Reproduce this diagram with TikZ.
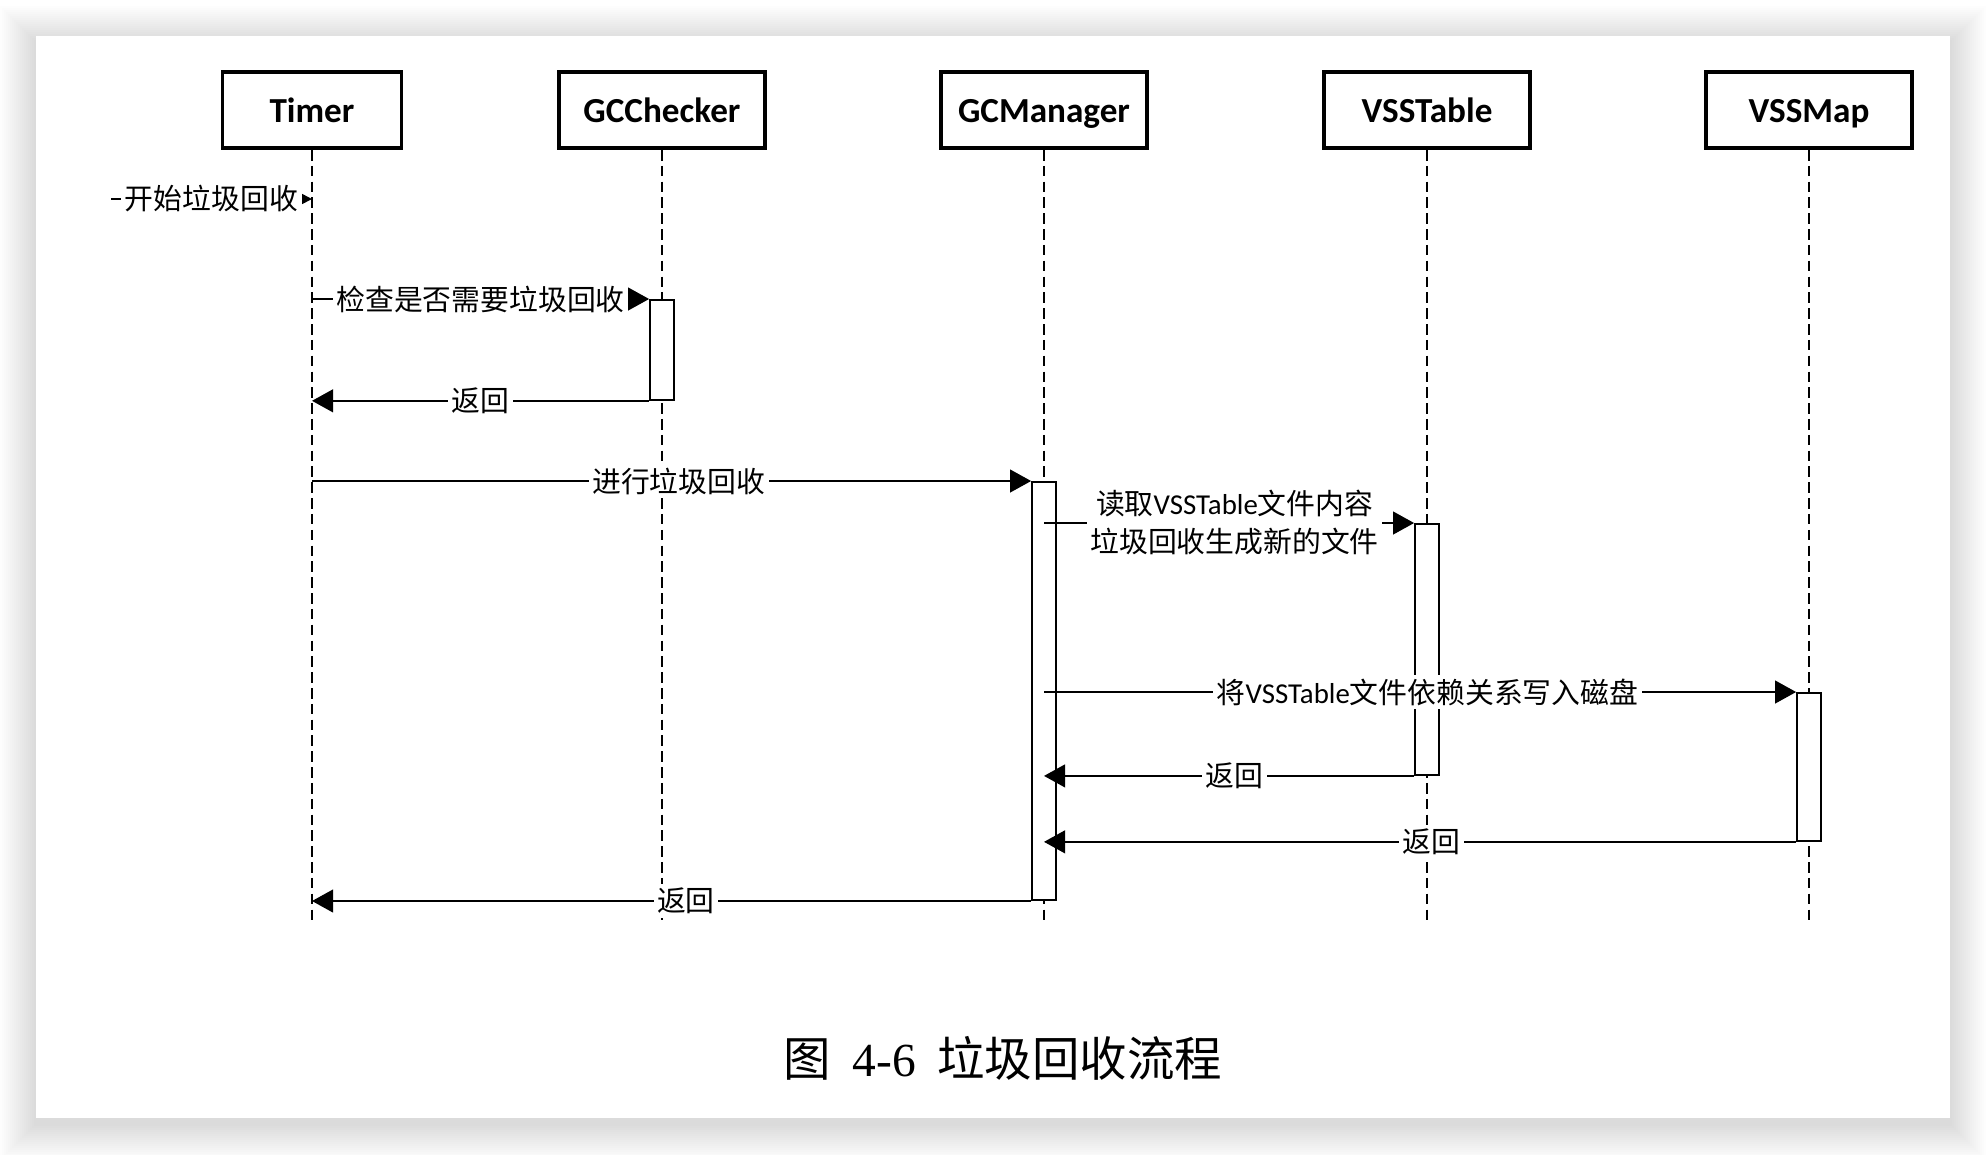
\documentclass[tikz,border=0pt]{standalone}
\usepackage{fontspec}
\setmainfont{Carlito}
\newfontfamily\cjk{Noto Sans CJK SC}
\newfontfamily\capserif{Liberation Serif}
\usetikzlibrary{arrows.meta, calc, positioning}
\newcommand{\zh}[1]{{\cjk #1}}

\tikzset{
  objbox/.style={draw, line width=1.1pt, minimum height=0.76cm, minimum width=2.06cm, inner sep=0pt, text height=7.2pt, text depth=0pt, font=\fontsize{10}{12}\selectfont\bfseries},
  lifeline/.style={line width=0.4pt, dash pattern=on 3pt off 1.5pt},
  actbox/.style={draw, fill=white, line width=0.5pt, minimum width=0.24cm, inner sep=0pt},
  msg/.style={line width=0.5pt, -{Triangle[length=6pt, width=6.5pt]}},
  msglabel/.style={fill=white, inner sep=1pt, font=\fontsize{8.2}{10.8}\selectfont},
}

\begin{document}
\begin{tikzpicture}[x=0.01cm, y=-0.01cm]
\useasboundingbox (0,0) rectangle (1986,1154);

% Page with shadow
\fill[white] (0,0) rectangle (1986,1154);
\foreach \r in {1,...,18} {
    \fill[black, opacity=0.007] ({36-2*\r},{42-2*\r}) rectangle ({1950+2*\r},{1124+2*\r});
}
\fill[white] (36,36) rectangle (1950,1118);

% Objects
\node[objbox, minimum width=1.79cm] (timer) at (312,110) {Timer};
\node[objbox] (checker) at (662,110) {GCChecker};
\node[objbox] (manager) at (1044,110) {GCManager};
\node[objbox] (vsstable) at (1427,110) {VSSTable};
\node[objbox] (vssmap) at (1809,110) {VSSMap};

% Lifelines
\coordinate (lifeend) at (0,921);
\foreach \obj in {timer, checker, manager, vsstable, vssmap} {
    \draw[lifeline] (\obj.south) -- (\obj |- lifeend);
}

% Activations
\node[actbox, minimum height=1.00cm, anchor=north] (chkact) at (checker |- 0,299) {};
\node[actbox, minimum height=4.18cm, anchor=north] (mgract) at (manager |- 0,481) {};
\node[actbox, minimum height=2.51cm, anchor=north] (tblact) at (vsstable |- 0,523) {};
\node[actbox, minimum height=1.48cm, anchor=north] (mapact) at (vssmap |- 0,692) {};

% Messages
\coordinate (start) at (111,199);
\draw[msg, -{Triangle[length=3pt, width=3pt]}] (start) -- (timer |- start)
    node[msglabel, midway] {\zh{开始垃圾回收}};
\draw[msg] (timer |- chkact.north) -- (chkact.north west)
    node[msglabel, midway] {\zh{检查是否需要垃圾回收}};
\draw[msg] (chkact.south west) -- (timer |- chkact.south)
    node[msglabel, midway] {\zh{返回}};
\draw[msg] (timer |- mgract.north) -- (mgract.north west)
    node[msglabel, pos=0.51] {\zh{进行垃圾回收}};
\draw[msg] (manager |- tblact.north) -- (tblact.north west)
    node[msglabel, pos=0.515, align=center] {\zh{读取}VSSTable\zh{文件内容}\\\zh{垃圾回收生成新的文件}};
\draw[msg] (manager |- mapact.north) -- (mapact.north west)
    node[msglabel, pos=0.51] {\zh{将}VSSTable\zh{文件依赖关系写入磁盘}};
\draw[msg] (tblact.south west) -- (manager |- tblact.south)
    node[msglabel, pos=0.485] {\zh{返回}};
\draw[msg] (mapact.south west) -- (manager |- mapact.south)
    node[msglabel, pos=0.485] {\zh{返回}};
\draw[msg] (mgract.south west) -- (timer |- mgract.south)
    node[msglabel, pos=0.48] {\zh{返回}};

% Caption
\node[font=\fontsize{13.5}{16}\selectfont] (caption) at (1003,1058)
    {\zh{图}\hspace{0.45em}{\capserif 4-6}\hspace{0.45em}\zh{垃圾回收流程}};
\end{tikzpicture}
\end{document}
